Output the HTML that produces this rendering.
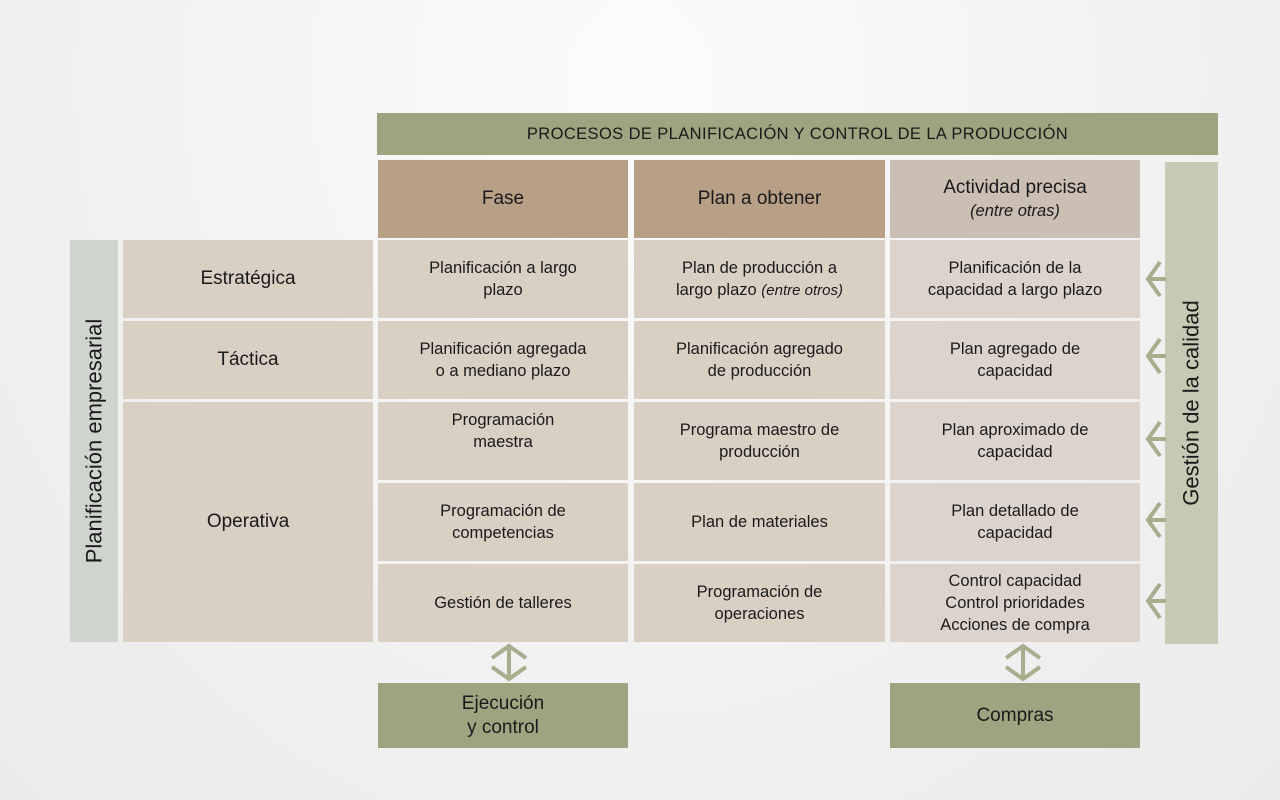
<!DOCTYPE html>
<html><head><meta charset="utf-8"><style>
body{margin:0;width:1280px;height:800px;background:radial-gradient(ellipse at 50% 10%,#fcfcfc 0%,#f1f1f1 60%,#ebebeb 100%);font-family:"Liberation Sans",sans-serif;position:relative;overflow:hidden;color:#1a1a1a}
.b{position:absolute;display:flex;align-items:center;justify-content:center;text-align:center;font-size:16.5px;line-height:22px;box-sizing:border-box}
.c{background:#d9cfc3}
.a{background:#dcd3cd}
.h{background:#b8a087;font-size:19px}
.g{background:#9ea380}
svg{position:absolute;left:0;top:0}
</style></head><body>
<div class="b g" style="left:377px;top:113px;width:841px;height:42px;font-size:16.5px;letter-spacing:0.4px"><div>PROCESOS DE PLANIFICACIÓN Y CONTROL DE LA PRODUCCIÓN</div></div>
<div class="b h" style="left:378px;top:160px;width:250px;height:78px"><div>Fase</div></div>
<div class="b h" style="left:634px;top:160px;width:251px;height:78px"><div>Plan a obtener</div></div>
<div class="b" style="left:890px;top:160px;width:250px;height:78px;background:#cbbfb4;font-size:19px;line-height:23px"><div>Actividad precisa<br><i style="font-size:16.5px">(entre otras)</i></div></div>

<div class="b" style="left:70px;top:240px;width:48px;height:402px;background:#d0d4cf"><div style="transform:rotate(-90deg);white-space:nowrap;font-size:22px">Planificación empresarial</div></div>
<div class="b" style="left:1165px;top:162px;width:53px;height:482px;background:#c8c9b5"><div style="transform:rotate(-90deg);white-space:nowrap;font-size:22px">Gestión de la calidad</div></div>

<div class="b c" style="left:123px;top:240px;width:250px;height:78px;font-size:19px"><div>Estratégica</div></div>
<div class="b c" style="left:123px;top:321px;width:250px;height:78px;font-size:19px"><div>Táctica</div></div>
<div class="b c" style="left:123px;top:402px;width:250px;height:240px;font-size:19px"><div>Operativa</div></div>

<div class="b c" style="left:378px;top:240px;width:250px;height:78px"><div>Planificación a largo<br>plazo</div></div>
<div class="b c" style="left:378px;top:321px;width:250px;height:78px"><div>Planificación agregada<br>o a mediano plazo</div></div>
<div class="b c" style="left:378px;top:402px;width:250px;height:78px;padding-bottom:20px"><div>Programación<br>maestra</div></div>
<div class="b c" style="left:378px;top:483px;width:250px;height:78px"><div>Programación de<br>competencias</div></div>
<div class="b c" style="left:378px;top:564px;width:250px;height:78px"><div>Gestión de talleres</div></div>

<div class="b c" style="left:634px;top:240px;width:251px;height:78px"><div>Plan de producción a<br>largo plazo <i style="font-size:15px">(entre otros)</i></div></div>
<div class="b c" style="left:634px;top:321px;width:251px;height:78px"><div>Planificación agregado<br>de producción</div></div>
<div class="b c" style="left:634px;top:402px;width:251px;height:78px"><div>Programa maestro de<br>producción</div></div>
<div class="b c" style="left:634px;top:483px;width:251px;height:78px"><div>Plan de materiales</div></div>
<div class="b c" style="left:634px;top:564px;width:251px;height:78px"><div>Programación de<br>operaciones</div></div>

<div class="b a" style="left:890px;top:240px;width:250px;height:78px"><div>Planificación de la<br>capacidad a largo plazo</div></div>
<div class="b a" style="left:890px;top:321px;width:250px;height:78px"><div>Plan agregado de<br>capacidad</div></div>
<div class="b a" style="left:890px;top:402px;width:250px;height:78px"><div>Plan aproximado de<br>capacidad</div></div>
<div class="b a" style="left:890px;top:483px;width:250px;height:78px"><div>Plan detallado de<br>capacidad</div></div>
<div class="b a" style="left:890px;top:564px;width:250px;height:78px"><div>Control capacidad<br>Control prioridades<br>Acciones de compra</div></div>

<div class="b g" style="left:378px;top:683px;width:250px;height:65px;font-size:19px;line-height:24px"><div>Ejecución<br>y control</div></div>
<div class="b g" style="left:890px;top:683px;width:250px;height:65px;font-size:19px"><div>Compras</div></div>

<svg width="1280" height="800" fill="none" stroke="#a8ad8e" stroke-width="4">
<g id="ar"><path d="M1166 279H1148M1160 262L1148 279L1160 296"/></g>
<use href="#ar" y="77"/><use href="#ar" y="160"/><use href="#ar" y="241"/><use href="#ar" y="322"/>
<path d="M509 645V680M492 658L509 646L526 658M492 667L509 679L526 667"/>
<path d="M1023 645V680M1006 658L1023 646L1040 658M1006 667L1023 679L1040 667"/>
</svg>
</body></html>
